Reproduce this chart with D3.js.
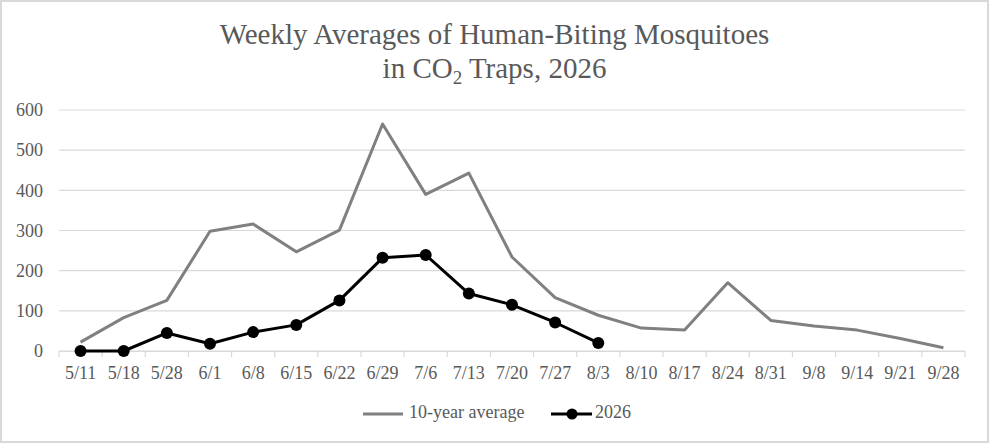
<!DOCTYPE html>
<html>
<head>
<meta charset="utf-8">
<script src="https://cdn.jsdelivr.net/npm/d3@7"></script>
<style>
  body { margin: 0; background: #fff; }
  svg text { font-family: 'Liberation Serif', 'Times New Roman', 'DejaVu Serif', serif !important; fill: #595959; }
</style>
</head>
<body>
<svg id="chart" width="989" height="443"></svg>
<script>
var weeks = ["5/11","5/18","5/28","6/1","6/8","6/15","6/22","6/29","7/6","7/13","7/20",
             "7/27","8/3","8/10","8/17","8/24","8/31","9/8","9/14","9/21","9/28"];
var tenYearAvg = [22,83,126,298,316,247,301,565,390,443,234,133,89,57,52,170,76,62,52,31,8];
var year2026 = [0,0,45,18,47,65,126,232,239,143,115,71,20];
var yTicks = [0,100,200,300,400,500,600];

var svg = d3.select("#chart");
var W = 989, H = 443;
var margin = {left: 59, right: 24, top: 110, bottom: 92};

svg.append("rect")
  .attr("x", 1).attr("y", 1)
  .attr("width", W - 2).attr("height", H - 2)
  .attr("fill", "#fff").attr("stroke", "#d9d9d9").attr("stroke-width", 2);

var x = d3.scaleBand()
  .domain(weeks)
  .range([margin.left, W - margin.right]);

var y = d3.scaleLinear()
  .domain([0, 600])
  .range([H - margin.bottom, margin.top]);

// gridlines
svg.append("g")
  .selectAll("line")
  .data(yTicks)
  .join("line")
  .attr("x1", margin.left).attr("x2", W - margin.right)
  .attr("y1", d => y(d)).attr("y2", d => y(d))
  .attr("stroke", "#d9d9d9").attr("stroke-width", 1.2);

// y labels
svg.append("g")
  .selectAll("text")
  .data(yTicks)
  .join("text")
  .attr("x", 43).attr("y", d => y(d))
  .attr("dy", "0.35em")
  .attr("text-anchor", "end")
  .style("font-size", "18px")
  .text(d => d);

// x axis
var xAxis = d3.axisBottom(x).tickSize(0).tickPadding(15);
var gx = svg.append("g")
  .attr("transform", "translate(0," + y(0) + ")")
  .call(xAxis);
gx.select(".domain").attr("stroke", "#d9d9d9").attr("stroke-width", 1.2);
gx.selectAll("text").style("font-size", "18px").attr("fill", "#595959");

// tick marks at band boundaries
var bounds = weeks.map(d => x(d)).concat([x(weeks[weeks.length - 1]) + x.bandwidth()]);
gx.append("g")
  .selectAll("line")
  .data(bounds)
  .join("line")
  .attr("x1", d => d).attr("x2", d => d)
  .attr("y1", 0).attr("y2", 6)
  .attr("stroke", "#d9d9d9").attr("stroke-width", 1.2);

var cx = d => x(d) + x.bandwidth() / 2;

var line = d3.line()
  .x((d, i) => cx(weeks[i]))
  .y(d => y(d));

svg.append("path")
  .datum(tenYearAvg)
  .attr("d", line)
  .attr("fill", "none")
  .attr("stroke", "#808080")
  .attr("stroke-width", 3)
  .attr("stroke-linejoin", "round");

svg.append("path")
  .datum(year2026)
  .attr("d", line)
  .attr("fill", "none")
  .attr("stroke", "#000")
  .attr("stroke-width", 3)
  .attr("stroke-linejoin", "round");

svg.append("g")
  .selectAll("circle")
  .data(year2026)
  .join("circle")
  .attr("cx", (d, i) => cx(weeks[i]))
  .attr("cy", d => y(d))
  .attr("r", 6)
  .attr("fill", "#000");

// title
var title = svg.append("text")
  .attr("x", W / 2).attr("y", 44)
  .attr("text-anchor", "middle")
  .style("font-size", "29px");
title.append("tspan").text("Weekly Averages of Human-Biting Mosquitoes");
var t2 = svg.append("text")
  .attr("x", W / 2).attr("y", 78)
  .attr("text-anchor", "middle")
  .style("font-size", "29px");
t2.append("tspan").text("in CO");
t2.append("tspan").attr("dy", 6).style("font-size", "19px").text("2");
t2.append("tspan").attr("dy", -6).text(" Traps, 2026");

// legend
var lg = svg.append("g");
lg.append("line").attr("x1", 363).attr("x2", 403).attr("y1", 414).attr("y2", 414)
  .attr("stroke", "#808080").attr("stroke-width", 3);
lg.append("text").attr("x", 409).attr("y", 418)
  .style("font-size", "18px").text("10-year average");
lg.append("line").attr("x1", 551).attr("x2", 592).attr("y1", 414).attr("y2", 414)
  .attr("stroke", "#000").attr("stroke-width", 3);
lg.append("circle").attr("cx", 572).attr("cy", 414).attr("r", 5.5).attr("fill", "#000");
lg.append("text").attr("x", 595).attr("y", 418)
  .style("font-size", "18px").text("2026");
</script>
</body>
</html>
